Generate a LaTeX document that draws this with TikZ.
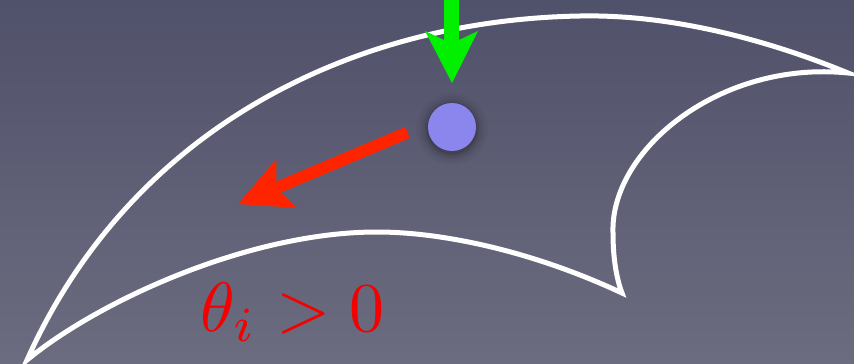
\documentclass[tikz,border=0pt]{standalone}
\usepackage{tikz}
\definecolor{bgtop}{RGB}{80,81,106}
\definecolor{bgbot}{RGB}{108,108,128}
\definecolor{dotblue}{RGB}{138,134,238}
\definecolor{arrgreen}{RGB}{0,240,0}
\definecolor{arrred}{RGB}{255,36,0}
\definecolor{txtred}{RGB}{245,0,0}
\tikzset{
  outline/.style={draw=white,line width=5pt,line join=miter,miter limit=20},
  arrowshape/.style={draw=none},
}
\begin{document}
\begin{tikzpicture}[x=1pt,y=-1pt]
\useasboundingbox (0,0) rectangle (854,364);
\shade[top color=bgtop,bottom color=bgbot] (0,0) rectangle (854,364);
% crescent shape
\draw[outline]
  (27,360) .. controls (130,130) and (350,20) .. (580,16)
  .. controls (680,14) and (780,45) .. (848,73)
  .. controls (720,60) and (610,150) .. (613,233)
  .. controls (613,260) and (617,280) .. (622,293)
  .. controls (530,250) and (440,232) .. (377,232)
  .. controls (250,232) and (100,300) .. (27,360)
  -- cycle;
% dot shadow
\foreach \r/\o in {36/0.03,33/0.04,30/0.06,27.5/0.08,25.5/0.1}{
  \fill[black,opacity=\o] (452,129) circle (\r);
}
\node[circle,fill=dotblue,minimum size=48pt,inner sep=0pt] (dot) at (452,127) {};
% green arrow
\fill[arrgreen,arrowshape] (444,-2) -- (459,-2) -- (459,40) -- (478,31) -- (452,83) -- (425,31) -- (444,40) -- cycle;
% red arrow
\fill[arrred,arrowshape] (405.2,127.0) -- (276.3,181.5) -- (276.5,159.1) -- (238,204) -- (297.1,207.9) -- (280.9,192.5) -- (409.8,138.0) -- cycle;
% label
\node[anchor=base west,inner sep=0pt,text=txtred,font=\normalsize,scale=7.0] (lab) at (199,331) {$\theta_i > 0$};
\end{tikzpicture}
\end{document}
